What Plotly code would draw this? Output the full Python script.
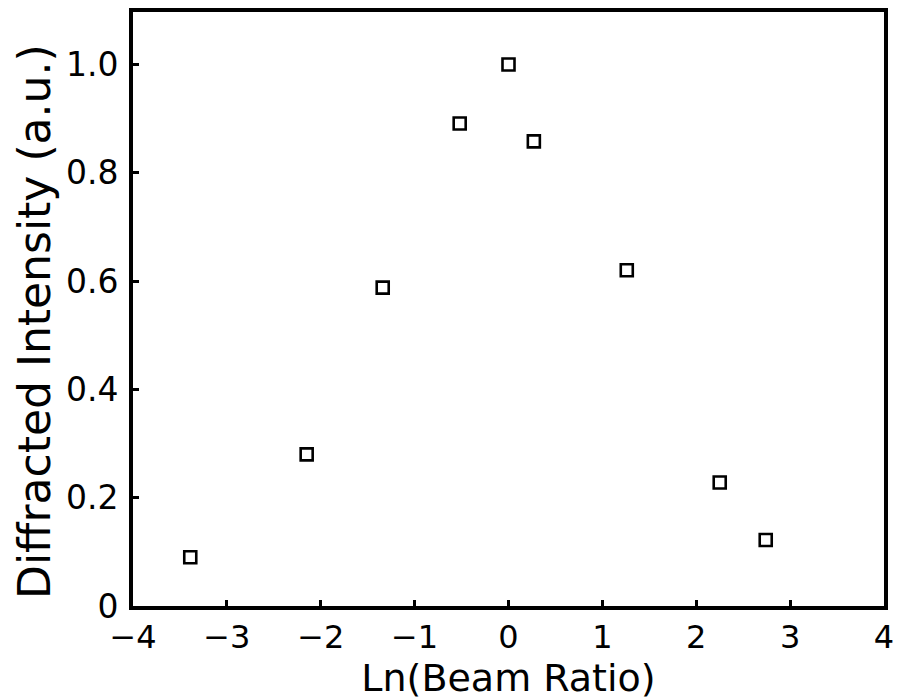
import plotly.graph_objects as go

ln_beam_ratio = [-3.39, -2.15, -1.34, -0.52, 0.0, 0.27, 1.26, 2.25, 2.74]
diffracted_intensity = [0.09, 0.28, 0.588, 0.891, 1.0, 0.858, 0.62, 0.228, 0.122]

x_ticks = [-4, -3, -2, -1, 0, 1, 2, 3, 4]
y_ticks = [0, 0.2, 0.4, 0.6, 0.8, 1.0]
y_tick_text = ["0", "0.2", "0.4", "0.6", "0.8", "1.0"]

FONT = "DejaVu Sans"

fig = go.Figure()
fig.add_trace(go.Scatter(
    x=ln_beam_ratio, y=diffracted_intensity, mode="markers",
    marker=dict(symbol="square-open", size=12, color="black", line=dict(width=2.6, color="black")),
    showlegend=False,
))

fig.update_layout(
    width=897, height=700,
    margin=dict(l=133, r=13, t=12, b=94),
    paper_bgcolor="white", plot_bgcolor="white",
    font=dict(family=FONT, color="black"),
)
fig.update_xaxes(
    range=[-4, 4], tickvals=x_ticks, showgrid=False, zeroline=False,
    showline=True, linewidth=4, linecolor="black", mirror=True,
    ticks="inside", ticklen=6, tickwidth=3, tickcolor="black",
    tickfont=dict(size=32, family=FONT), ticklabelstandoff=0,
    automargin=False,
    title=dict(text="Ln(Beam Ratio)", font=dict(size=38, family=FONT), standoff=2),
)
fig.update_yaxes(
    range=[0, 1.097], tickvals=y_ticks, ticktext=y_tick_text, showgrid=False, zeroline=False,
    showline=True, linewidth=4, linecolor="black", mirror=True,
    ticks="inside", ticklen=6, tickwidth=3, tickcolor="black",
    tickfont=dict(size=33, family=FONT), ticklabelstandoff=4,
    automargin=False,
)
fig.add_annotation(
    text="Diffracted Intensity (a.u.)", textangle=-90,
    xref="paper", yref="paper", x=(34 - 133) / 751, y=(606 - 322) / 594,
    xanchor="center", yanchor="middle", showarrow=False,
    font=dict(size=44, family=FONT, color="black"),
)

fig.write_html("out.html")
